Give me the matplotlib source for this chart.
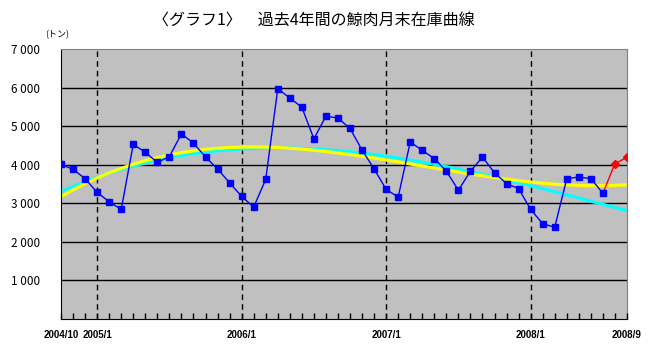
import numpy as np
import matplotlib
matplotlib.use('Agg')
import matplotlib.pyplot as plt

plt.rcParams['font.family'] = ['Noto Sans CJK JP', 'DejaVu Sans']

# Monthly stock at end of month, 2004/10 .. 2008/9 (tons)
stock = [4010, 3880, 3640, 3280, 3040, 2840, 4530, 4320, 4060, 4210,
         4800, 4560, 4200, 3890, 3530, 3180, 2900, 3620, 5970, 5730,
         5490, 4670, 5260, 5210, 4940, 4380, 3890, 3360, 3160, 4590,
         4370, 4160, 3830, 3340, 3830, 4200, 3790, 3510, 3380, 2840,
         2470, 2380, 3640, 3680, 3640, 3260, 4030, 4190]
n_blue = 46  # last two months drawn in red

tick_pos = [0, 3, 15, 27, 39, 47]
tick_labels = ['2004/10', '2005/1', '2006/1', '2007/1', '2008/1', '2008/9']
year_starts = [3, 15, 27, 39]
y_ticks = [1000, 2000, 3000, 4000, 5000, 6000, 7000]
y_labels = ['1 000', '2 000', '3 000', '4 000', '5 000', '6 000', '7 000']

x = np.arange(len(stock))
y = np.array(stock, dtype=float)

# polynomial trend lines (like the spreadsheet trendlines)
fit_blue = np.polyval(np.polyfit(x[:n_blue], y[:n_blue], 3), x)
fit_all = np.polyval(np.polyfit(x, y, 3), x)

fig = plt.figure(figsize=(6.55, 3.51), dpi=100)
ax = fig.add_axes([61 / 655, 1 - 319 / 351, 566 / 655, 270 / 351])
ax.set_facecolor('#c0c0c0')
ax.set_axisbelow(False)

for v in y_ticks[:-1]:
    ax.axhline(v, color='black', lw=1, zorder=1)
for v in year_starts:
    ax.axvline(v, color='black', lw=1, ls=(0, (4, 3)), zorder=1)

ax.plot(x, fit_blue, color='#00ffff', lw=2.3, zorder=2)
ax.plot(x, fit_all, color='#ffff00', lw=2.3, zorder=2.1)

ax.plot(x[n_blue - 1:], y[n_blue - 1:], color='red', lw=1, marker='D',
        ms=4.2, markevery=range(1, 3), zorder=4)
ax.plot(x[:n_blue], y[:n_blue], color='#0000ff', lw=1, marker='s', ms=4.6,
        zorder=5)

ax.set_xlim(0, 47)
ax.set_ylim(0, 7000)

ax.set_yticks(y_ticks)
ax.set_yticklabels(y_labels, fontsize=8.5)
ax.tick_params(axis='y', length=0, pad=15)

# month ticks on the bottom edge, pointing inwards
ax.set_xticks(x)
ax.set_xticklabels([tick_labels[tick_pos.index(i)] if i in tick_pos else ''
                    for i in x], fontsize=7, family='Liberation Sans',
                   fontweight='bold')
ax.tick_params(axis='x', which='major', direction='in', length=4,
               width=1, color='black', pad=8)

for s in ['top', 'right']:
    ax.spines[s].set_color('#808080')
for s in ['left', 'bottom']:
    ax.spines[s].set_color('black')

fig.text(314 / 655, 1 - 21 / 351, '〈グラフ1〉　過去4年間の鯨肉月末在庫曲線',
         ha='center', va='center', fontsize=11.5)
fig.text(57 / 655, 1 - 35 / 351, '(トン)', ha='center', va='center', fontsize=6.5)

fig.savefig('out.png', dpi=100)
